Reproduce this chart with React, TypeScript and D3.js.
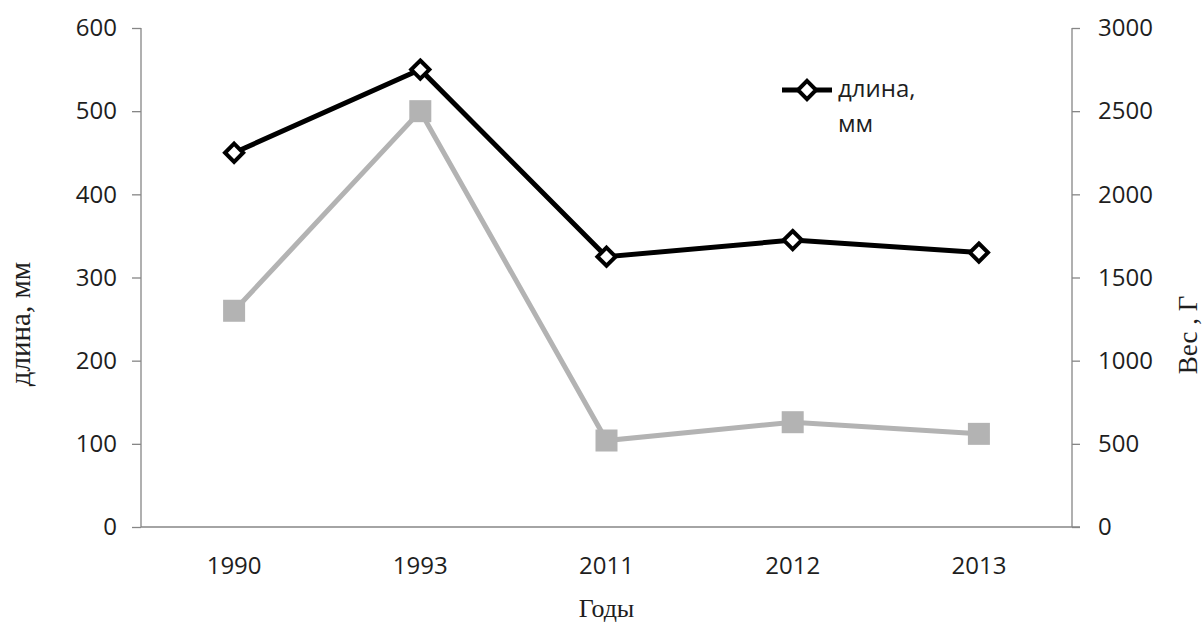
import React, { useEffect, useRef } from "react";
import * as d3 from "d3";

const years = ["1990", "1993", "2011", "2012", "2013"];
const lengthMm = [450, 550, 325, 345, 330];
const weightG = [1300, 2500, 520, 630, 560];
const leftTicks = [0, 100, 200, 300, 400, 500, 600];
const rightTicks = [0, 500, 1000, 1500, 2000, 2500, 3000];

const W = 1202;
const H = 626;
const margin = { top: 28, right: 130, bottom: 99, left: 141 };

const App: React.FC = () => {
  const svgRef = useRef<SVGSVGElement | null>(null);

  useEffect(() => {
    if (!svgRef.current) return;
    const svg = d3.select(svgRef.current);
    svg.selectAll("*").remove();

    const innerW = W - margin.left - margin.right;
    const innerH = H - margin.top - margin.bottom;
    const axisColor = "#868686";
    const textColor = "#1e1e1e";
    const sans = "'Open Sans', 'Noto Sans', sans-serif";
    const serif = "'Liberation Serif', 'DejaVu Serif', serif";

    const x = d3.scaleBand().domain(years).range([0, innerW]);
    const yL = d3.scaleLinear().domain([0, 600]).range([innerH, 0]);
    const yR = d3.scaleLinear().domain([0, 3000]).range([innerH, 0]);
    const cx = (d: string) => (x(d) ?? 0) + x.bandwidth() / 2;

    const g = svg
      .append("g")
      .attr("transform", `translate(${margin.left},${margin.top})`);

    // left axis
    const left = g
      .append("g")
      .call(
        d3.axisLeft(yL).tickValues(leftTicks).tickFormat(d3.format("d")).tickSize(9).tickPadding(15),
      );
    // right axis
    const right = g
      .append("g")
      .attr("transform", `translate(${innerW},0)`)
      .call(
        d3.axisRight(yR).tickValues(rightTicks).tickFormat(d3.format("d")).tickSize(8).tickPadding(18),
      );
    // bottom axis line
    const bottom = g
      .append("g")
      .attr("transform", `translate(0,${innerH})`)
      .call(d3.axisBottom(x).tickSize(0).tickPadding(30));

    [left, right, bottom].forEach((a) => {
      a.select(".domain").attr("stroke", axisColor).attr("stroke-width", 1.3);
      a.selectAll(".tick line").attr("stroke", axisColor).attr("stroke-width", 1.3);
      a.selectAll(".tick text")
        .attr("fill", textColor)
        .style("font-family", sans)
        .style("font-size", "24px");
    });
    left.select(".domain").attr("d", `M0,${innerH}V0`);
    right.select(".domain").attr("d", `M0,0V${innerH}`);
    bottom.select(".domain").attr("d", `M0,0H${innerW + 8}`);

    // weight series (grey squares)
    const lineW = d3
      .line<number>()
      .x((_, i) => cx(years[i]))
      .y((d) => yR(d));
    g.append("path")
      .datum(weightG)
      .attr("d", lineW)
      .attr("fill", "none")
      .attr("stroke", "#b3b3b3")
      .attr("stroke-width", 5);
    g.selectAll(".sq")
      .data(weightG)
      .enter()
      .append("rect")
      .attr("x", (_, i) => cx(years[i]) - 11)
      .attr("y", (d) => yR(d) - 11)
      .attr("width", 22)
      .attr("height", 22)
      .attr("fill", "#b3b3b3");

    // length series (black diamonds)
    const lineL = d3
      .line<number>()
      .x((_, i) => cx(years[i]))
      .y((d) => yL(d));
    g.append("path")
      .datum(lengthMm)
      .attr("d", lineL)
      .attr("fill", "none")
      .attr("stroke", "#000")
      .attr("stroke-width", 5);
    const diamond = d3.symbol().type(d3.symbolDiamond2).size(210);
    g.selectAll(".dm")
      .data(lengthMm)
      .enter()
      .append("path")
      .attr("d", diamond)
      .attr("transform", (d, i) => `translate(${cx(years[i])},${yL(d)})`)
      .attr("fill", "#fff")
      .attr("stroke", "#000")
      .attr("stroke-width", 4);

    // legend
    const lg = svg.append("g").attr("transform", "translate(782,90)");
    lg.append("line")
      .attr("x1", 0)
      .attr("x2", 50)
      .attr("stroke", "#000")
      .attr("stroke-width", 5);
    lg.append("path")
      .attr("d", diamond)
      .attr("transform", "translate(25,0)")
      .attr("fill", "#fff")
      .attr("stroke", "#000")
      .attr("stroke-width", 4);
    const lt = lg
      .append("text")
      .attr("fill", textColor)
      .style("font-family", sans)
      .style("font-size", "24px");
    lt.append("tspan").attr("x", 56).attr("y", 7).text("длина,");
    lt.append("tspan").attr("x", 56).attr("y", 42).text("мм");

    // axis titles
    svg.append("text")
      .attr("transform", "translate(30,324) rotate(-90)")
      .attr("text-anchor", "middle")
      .attr("fill", textColor)
      .style("font-family", serif)
      .style("font-size", "29px")
      .text("длина, мм");
    svg.append("text")
      .attr("transform", "translate(1197,335) rotate(-90)")
      .attr("text-anchor", "middle")
      .attr("fill", textColor)
      .style("font-family", serif)
      .style("font-size", "27px")
      .text("Вес , Г");
    svg.append("text")
      .attr("x", margin.left + innerW / 2)
      .attr("y", 617)
      .attr("text-anchor", "middle")
      .attr("fill", textColor)
      .style("font-family", serif)
      .style("font-size", "26px")
      .text("Годы");
  }, []);

  return (
    <svg
      ref={svgRef}
      width={W}
      height={H}
      style={{ position: "absolute", left: 0, top: 0, background: "#fff" }}
    />
  );
};

export default App;
